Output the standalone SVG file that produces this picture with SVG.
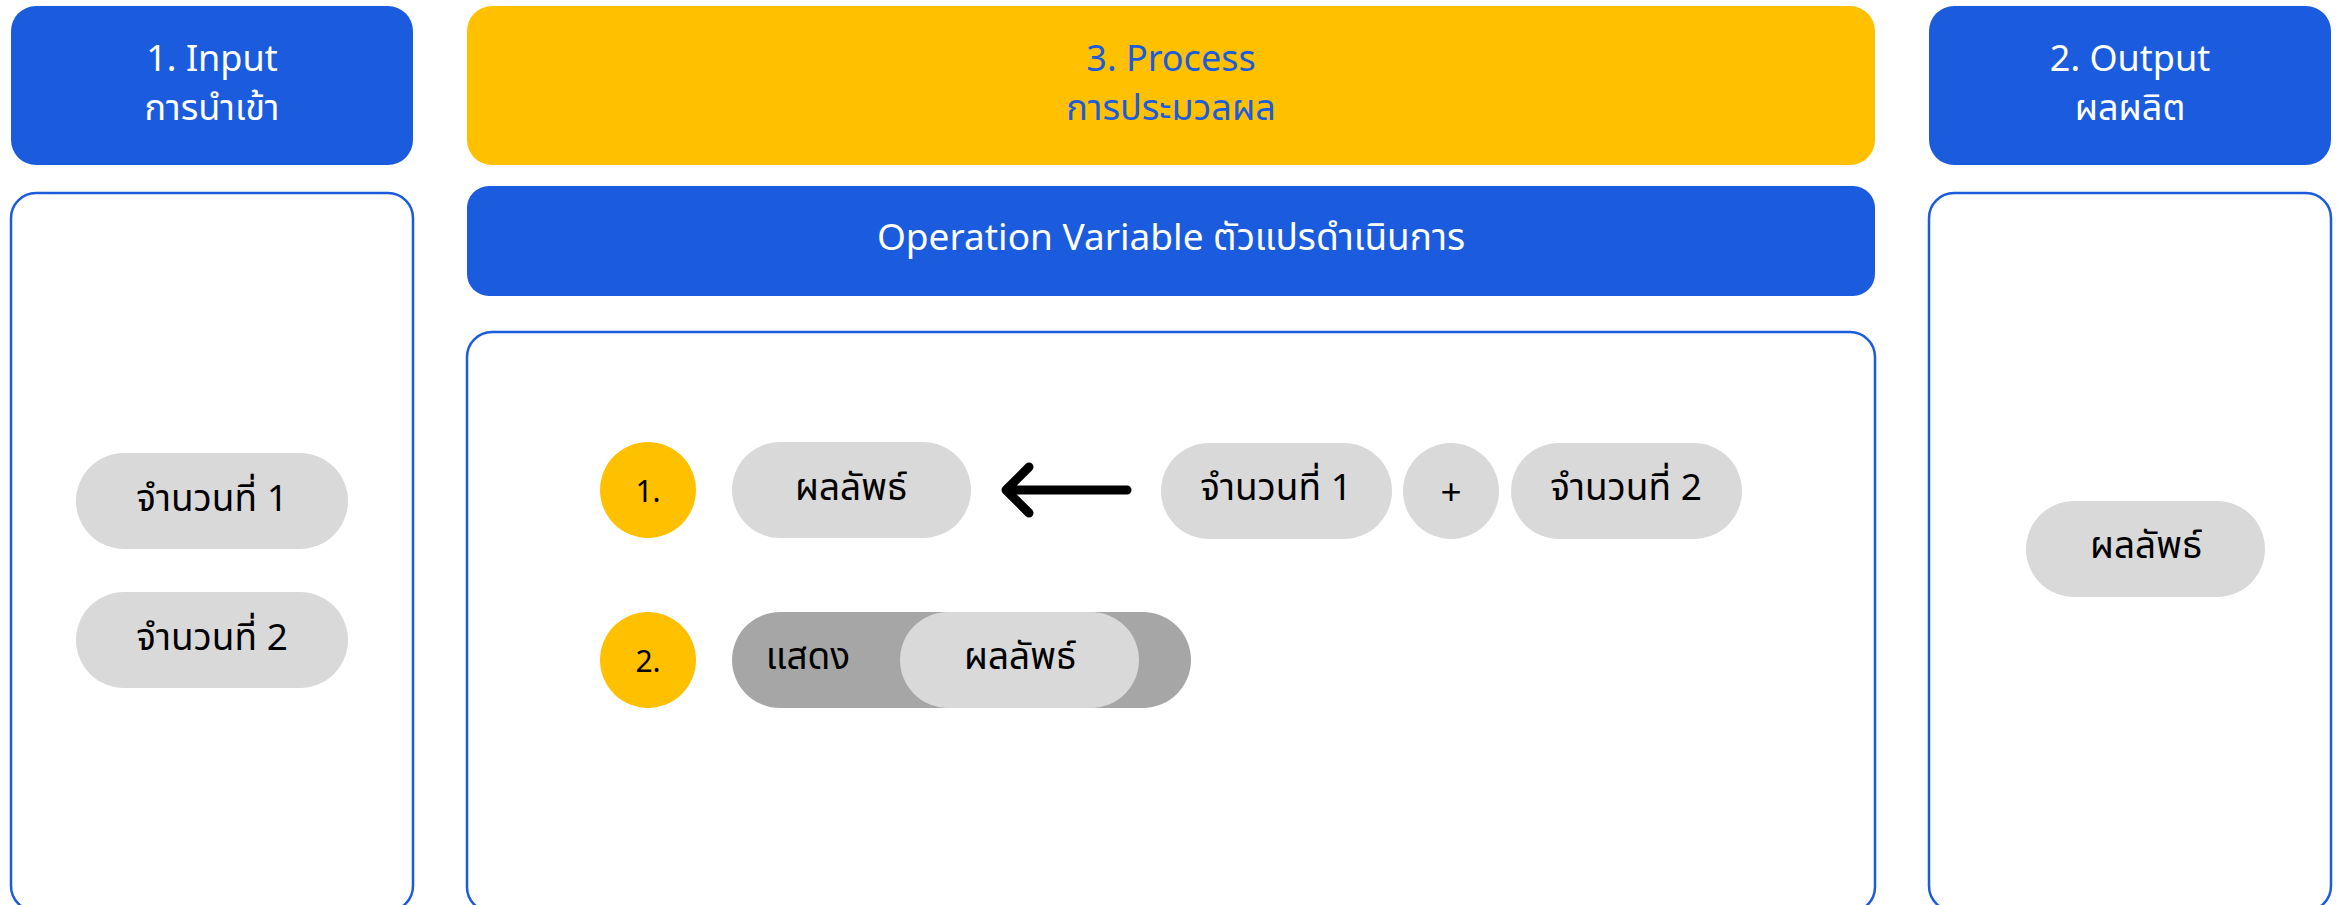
<svg xmlns="http://www.w3.org/2000/svg" width="2346" height="905" viewBox="0 0 2346 905">
<style>
text{font-family:"Noto Sans","Noto Sans Thai","Noto Sans Thai UI","DejaVu Sans",sans-serif;text-anchor:middle}
.hdr{fill:#1B5CDE}
.body{fill:#fff;stroke:#1B5CDE;stroke-width:2.5}
.pill{fill:#D9D9D9}
.dark{fill:#A6A6A6}
.num{fill:#FFC000}
.w{fill:#fff;font-size:37px}
.hw{fill:#fff;font-size:36px}
.b{fill:#1B5CDE;font-size:36px}
.t{fill:#000;font-size:37px}
.n{fill:#000;font-size:30px}
.conn{fill:none;stroke:#000;stroke-width:9;stroke-linecap:round;stroke-linejoin:round}
</style>
<rect width="2346" height="905" fill="#fff"/>
<g id="input-header">
<rect class="hdr" x="11" y="6" width="402" height="159" rx="25"/>
<text class="hw" x="212" y="71">1. Input</text>
<text class="hw" x="212" y="120">การนำเข้า</text>
</g>
<g id="process-header">
<rect x="467" y="6" width="1408" height="159" rx="25" fill="#FFC000"/>
<text class="b" x="1171" y="71">3. Process</text>
<text class="b" x="1171" y="120">การประมวลผล</text>
</g>
<g id="output-header">
<rect class="hdr" x="1929" y="6" width="402" height="159" rx="25"/>
<text class="hw" x="2130" y="71">2. Output</text>
<text class="hw" x="2130" y="120">ผลผลิต</text>
</g>
<g id="input-body">
<rect class="body" x="11" y="193" width="402" height="718" rx="25"/>
</g>
<g id="operation-variable">
<rect class="hdr" x="467" y="186" width="1408" height="110" rx="22"/>
<text class="w" x="1171" y="250">Operation Variable ตัวแปรดำเนินการ</text>
</g>
<g id="process-body">
<rect class="body" x="467" y="332" width="1408" height="580" rx="25"/>
</g>
<g id="output-body">
<rect class="body" x="1929" y="193" width="402" height="718" rx="25"/>
</g>
<g id="input-num1">
<rect class="pill" x="76" y="453" width="272" height="96" rx="48"/>
<text class="t" x="212" y="511">จำนวนที่ 1</text>
</g>
<g id="input-num2">
<rect class="pill" x="76" y="592" width="272" height="96" rx="48"/>
<text class="t" x="212" y="650">จำนวนที่ 2</text>
</g>
<g id="step1">
<ellipse class="num" cx="648" cy="490" rx="48" ry="48"/>
<text class="n" x="648" y="502">1.</text>
</g>
<g id="result1">
<rect class="pill" x="732" y="442" width="239" height="96" rx="48"/>
<text class="t" x="851" y="500">ผลลัพธ์</text>
</g>
<g id="proc-num1">
<rect class="pill" x="1161" y="443" width="231" height="96" rx="48"/>
<text class="t" x="1276" y="500">จำนวนที่ 1</text>
</g>
<g id="plus">
<ellipse class="pill" cx="1451" cy="491" rx="48" ry="48"/>
<text class="t" x="1451" y="505">+</text>
</g>
<g id="proc-num2">
<rect class="pill" x="1511" y="443" width="231" height="96" rx="48"/>
<text class="t" x="1626" y="500">จำนวนที่ 2</text>
</g>
<g id="step2">
<ellipse class="num" cx="648" cy="660" rx="48" ry="48"/>
<text class="n" x="648" y="672">2.</text>
</g>
<g id="show-result">
<rect class="dark" x="732" y="612" width="459" height="96" rx="48"/>
<text class="t" x="808" y="669">แสดง</text>
<rect class="pill" x="900" y="612" width="239" height="96" rx="48"/>
<text class="t" x="1020" y="669">ผลลัพธ์</text>
</g>
<g id="output-result">
<rect class="pill" x="2026" y="501" width="239" height="96" rx="48"/>
<text class="t" x="2146" y="558">ผลลัพธ์</text>
</g>
<g id="connectors">
<path class="conn" d="M1127 490 H1007 M1029 467 L1006 490 L1029 513"/>
</g>
</svg>
